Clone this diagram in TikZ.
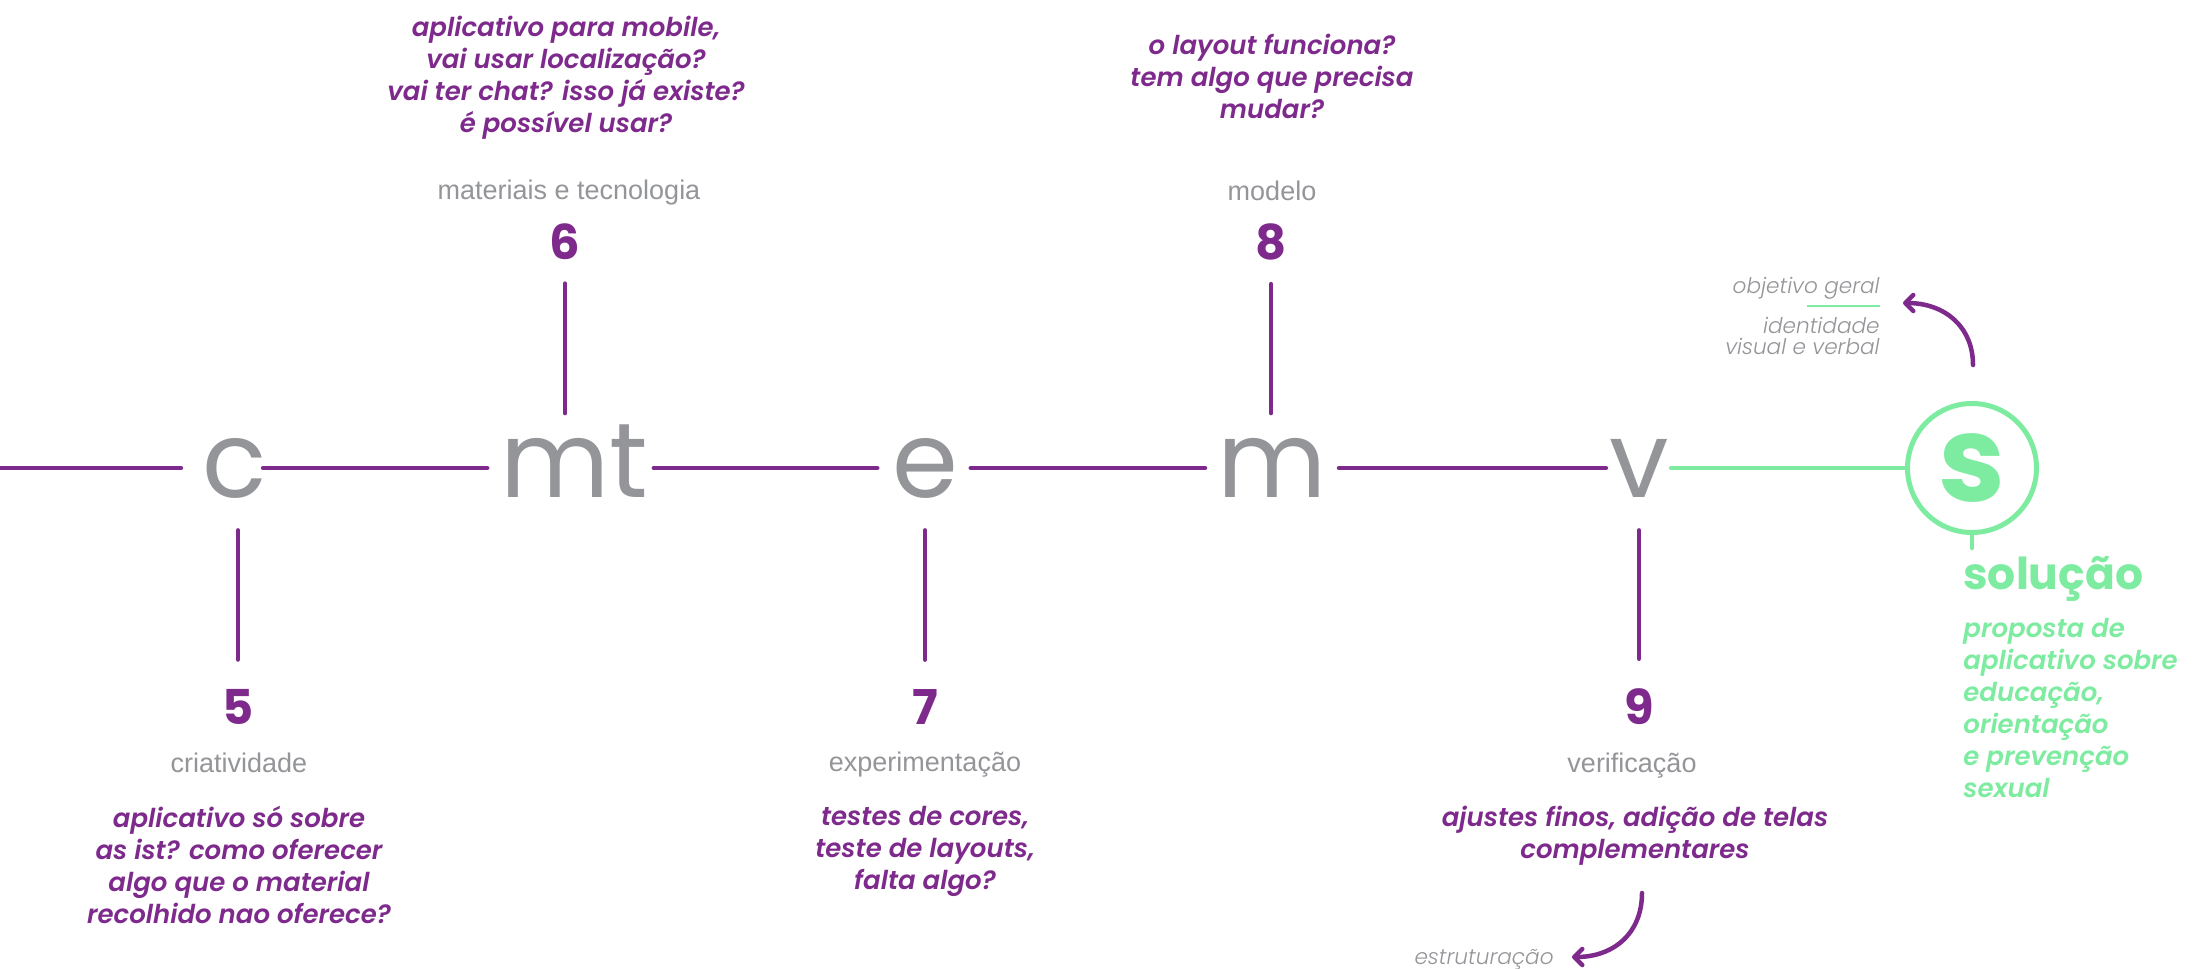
\documentclass[tikz,border=0pt]{standalone}
\usepackage{fontspec}
\usetikzlibrary{arrows.meta}
\setmainfont{Liberation Sans}
\newfontfamily\lightfont{Poppins}
\newfontfamily\qfont{Poppins SemiBold Italic}
\newfontfamily\bfont{Poppins Bold}
\newfontfamily\lifont{Poppins Light Italic}
\definecolor{ppurple}{HTML}{7E2A8C}
\definecolor{lgray}{HTML}{949598}
\definecolor{sgreen}{HTML}{7EECA0}
\begin{document}
\begin{tikzpicture}[x=0.5pt,y=-0.5pt,
  pline/.style={draw=ppurple, line width=2.25pt, line cap=round},
  gline/.style={draw=sgreen, line width=2.25pt, line cap=round},
  letter/.style={font=\lightfont\fontsize{53}{53}\selectfont, text=lgray, inner sep=0pt, text height=29.5pt, text depth=0pt},
  digit/.style={font=\bfont\fontsize{24}{24}\selectfont, text=ppurple, inner sep=0pt, anchor=base},
  glabel/.style={font=\fontsize{13.5}{13.5}\selectfont, text=lgray, inner sep=0pt, anchor=base},
  question/.style={font=\qfont\fontsize{13}{16}\selectfont, text=ppurple, inner sep=0pt, align=center, anchor=north},
  note/.style={font=\lifont\fontsize{10.8}{10.5}\selectfont, text=lgray, inner sep=0pt},
  curvearrow/.style={draw=ppurple, line width=2.25pt, line cap=round, -{Straight Barb[length=4pt,width=8pt,round]}}
]
\useasboundingbox (0,0) rectangle (2201,969);
\fill[white] (0,0) rectangle (2201,969);

% letters on the main line
\node[letter] (c)  at (234.5,468) {c};
\node[letter] (mt) at (574.5,468) {mt};
\node[letter] (e)  at (925.5,468) {e};
\node[letter] (m)  at (1272,468) {m};
\node[letter] (v)  at (1639,468) {v};
\node[circle, draw=sgreen, line width=2.5pt, minimum size=64.5pt, inner sep=0pt,
      font=\bfont\fontsize{60}{60}\selectfont, text=sgreen] (S) at (1972,468) {s};
\coordinate (lstart) at (0,468);
\coordinate (stick) at (1972,548);

% main line
\draw[pline] (lstart) -- ([xshift=-10.5pt]c.west);
\draw[pline] ([xshift=-2pt]c.east) -- ([xshift=-6.5pt]mt.west);
\draw[pline] ([xshift=2.5pt]mt.east) -- ([xshift=-7.5pt]e.west);
\draw[pline] ([xshift=6pt]e.east) -- ([xshift=-6pt]m.west);
\draw[pline] ([xshift=6pt]m.east) -- ([xshift=-1.5pt]v.west);
\draw[gline] ([xshift=1pt]v.east) -- (S.west);
\draw[gline] (S.south) -- (stick);

% digits
\node[digit] (n6) at (565,259) {6};
\node[digit] (n8) at (1271,259) {8};
\node[digit] (n5) at (238,724) {5};
\node[digit] (n7) at (925,724) {7};
\node[digit] (n9) at (1639,724) {9};

% ticks
\draw[pline] ([yshift=-12pt]n6.south) -- ([yshift=12.5pt]n6.south |- mt.north);
\draw[pline] ([yshift=-12pt]n8.south) -- ([yshift=12.5pt]n8.south |- m.north);
\draw[pline] ([yshift=-16.25pt]n5.north |- c.south) -- ([yshift=14.5pt]n5.north);
\draw[pline] ([yshift=-16.25pt]n7.north |- e.south) -- ([yshift=14.5pt]n7.north);
\draw[pline] ([yshift=-16.25pt]n9.north |- v.south) -- ([yshift=14.5pt]n9.north);

% gray labels
\node[glabel] (l6) at (569,199) {materiais e tecnologia};
\node[glabel] (l8) at (1272,200) {modelo};
\node[glabel] (l5) at (239,772) {criatividade};
\node[glabel] (l7) at (925,771) {experimentação};
\node[glabel] (l9) at (1632,772) {verificação};

% questions
\node[question] (q6) at (566,15.5) {aplicativo para mobile,\\ vai usar localização?\\ vai ter chat? isso já existe?\\ é possível usar?};
\node[question] (q8) at (1272,33.5) {o layout funciona?\\ tem algo que precisa\\ mudar?};
\node[question] (q5) at (239,805.5) {aplicativo só sobre\\ as ist? como oferecer\\ algo que o material\\ recolhido nao oferece?};
\node[question] (q7) at (925,805.5) {testes de cores,\\ teste de layouts,\\ falta algo?};
\node[question] (q9) at (1635,805.5) {ajustes finos, adição de telas\\ complementares};

% solution
\node[font=\bfont\fontsize{22}{22}\selectfont, text=sgreen, inner sep=0pt, anchor=base west] (sol) at (1963,589) {solução};
\node[question, text=sgreen, align=left, anchor=north west] (solq) at (1963,617.5) {proposta de\\ aplicativo sobre\\ educação,\\ orientação\\ e prevenção\\ sexual};

% notes
\node[note, anchor=base east] (obj) at (1880,293) {objetivo geral};
\node[note, align=right, anchor=north east] (ident) at (1880,317) {identidade\\ visual e verbal};
\node[note, anchor=base east] (estr) at (1554,964) {estruturação};
\draw[sgreen, line width=1.1pt] ([yshift=-6.5pt]obj.base east) -- ([yshift=-6.5pt,xshift=-36.5pt]obj.base east);

% curved arrows
\coordinate (a1s) at (1973,365);
\coordinate (a1e) at (1903,303);
\coordinate (a2s) at (1642,893);
\coordinate (a2e) at (1572,957);
\draw[curvearrow] (a1s) .. controls (1973,327) and (1945,303) .. (a1e);
\draw[curvearrow] (a2s) .. controls (1642,933) and (1614,957) .. (a2e);
\end{tikzpicture}
\end{document}
